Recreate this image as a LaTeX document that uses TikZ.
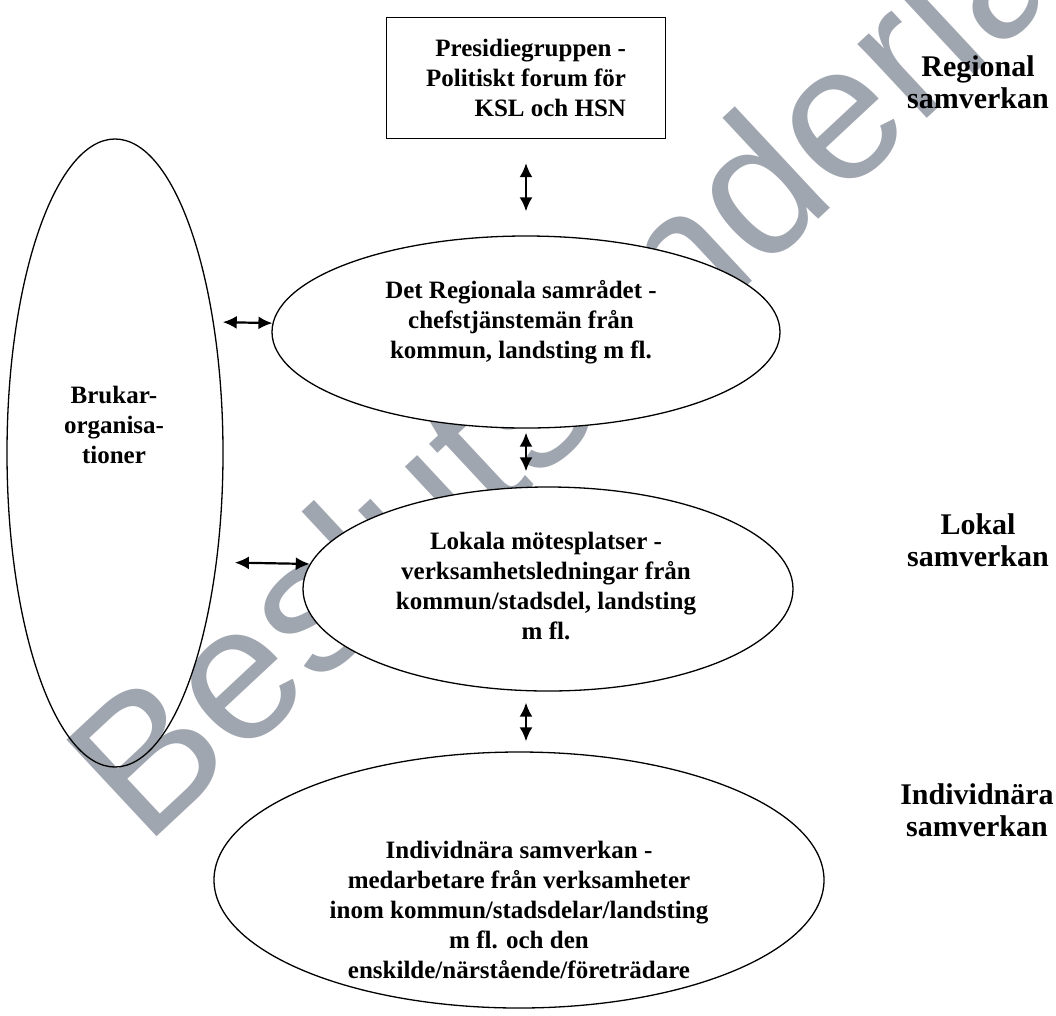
\documentclass[tikz,border=0pt]{standalone}
\usepackage{fontspec}
\setmainfont{Liberation Serif}
\newfontfamily\stampfont{Liberation Sans}
\usetikzlibrary{arrows.meta, shapes.geometric}

\definecolor{stampgray}{RGB}{160,166,176}

\tikzset{
  blob/.style={draw, ellipse, line width=1.3pt, inner sep=0pt},
  txt/.style={align=center, font=\bfseries\fontsize{25}{30}\selectfont},
  side/.style={align=center, font=\bfseries\fontsize{30}{32}\selectfont},
  link/.style={{Latex[length=14pt,width=13pt]}-{Latex[length=14pt,width=13pt]}, line width=2.2pt},
  stamp/.style={rotate=43, anchor=base west, inner sep=0pt, text=stampgray,
    font=\stampfont\fontsize{192}{192}\selectfont},
}

\begin{document}
\begin{tikzpicture}[x=1pt, y=-1pt]
    \useasboundingbox (0,0) rectangle (1056,1015);
    \node[stamp] (mark) at (145,848) {Beslutsunderlag};

    \node[draw, fill=white, line width=1.3pt, minimum width=279pt, minimum height=121pt, txt, align=right] (presidie) at (526,78) {Presidiegruppen -\\Politiskt forum för\\KSL och HSN};

    \node[blob, minimum width=216pt, minimum height=628pt] (brukar) at (115,453) {};
    \node[txt] (brukartxt) at (114,425) {Brukar-\\organisa-\\tioner};

    \node[blob, fill=white, minimum width=508pt, minimum height=192pt] (regional) at (526,332) {};
    \node[txt] (regionaltxt) at (521,322) {Det Regionala samrådet -\\chefstjänstemän från\\kommun, landsting m fl.};

    \node[blob, fill=white, minimum width=490pt, minimum height=204pt] (lokal) at (548,589) {};
    \node[txt] (lokaltxt) at (546,586) {Lokala mötesplatser -\\verksamhetsledningar från\\kommun/stadsdel, landsting\\m fl.};

    \node[blob, fill=white, minimum width=610pt, minimum height=256pt] (individ) at (519,880) {};
    \node[txt] (individtxt) at (519,910) {Individnära samverkan -\\medarbetare från verksamheter\\inom kommun/stadsdelar/landsting\\m fl. och den\\enskilde/närstående/företrädare};

    \node[side] (regionalside) at (978,82) {Regional\\samverkan};
    \node[side] (lokalside) at (978,540) {Lokal\\samverkan};
    \node[side] (individside) at (977,810) {Individnära\\samverkan};

    \draw[link, shorten <=24pt, shorten >=24pt] (presidie.south) -- (regional.north);
    \draw[link, shorten <=4pt, shorten >=15pt] (regional.south) -- (regional.south |- lokal.north);
    \draw[link, shorten <=11pt, shorten >=10pt] (lokal.south -| regional.south) -- (individ.north -| regional.south);
    \draw[link, shorten <=9pt] (brukar.53) -- (regional.178);
    \draw[link, shorten <=18pt] (brukar.-47.7) -- (lokal.174);
  \end{tikzpicture}
\end{document}
